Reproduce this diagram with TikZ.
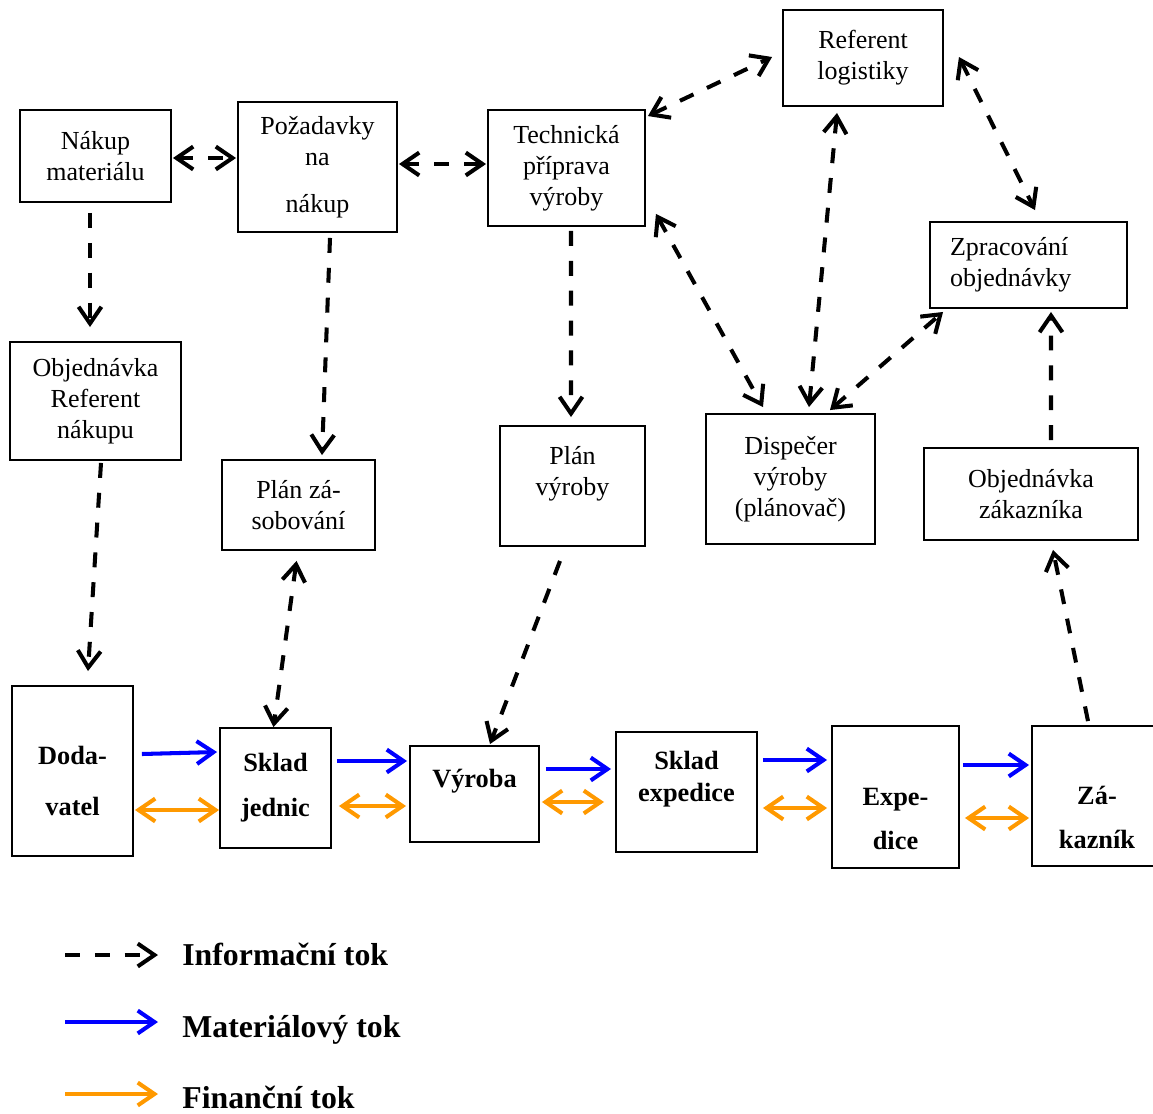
\documentclass[tikz,border=0pt]{standalone}
\usepackage{fontspec}
\setmainfont{Liberation Serif}
\usetikzlibrary{arrows.meta,calc}
\definecolor{finorange}{RGB}{255,153,0}

\begin{document}
\begin{tikzpicture}[x=0.02cm,y=-0.02cm,
                every path/.style={>={Straight Barb[length=9.5pt,width=13pt]}},
                blok/.style={draw,line width=1.1pt,inner sep=0pt,align=center,font=\fontsize{14.8}{17.6}\selectfont},
                blokb/.style={blok,font=\fontsize{15}{18.2}\selectfont\bfseries},
                info/.style={line width=2.3pt,dash pattern=on 8.5pt off 8.5pt},
                mat/.style={line width=2.3pt,blue},
                fin/.style={line width=2.3pt,finorange},
                legenda/.style={anchor=base west,inner sep=0pt,font=\fontsize{18.1}{20}\selectfont\bfseries}]
  \useasboundingbox (0,0) rectangle (1153,1113);
  % horni bloky
  \node[blok,minimum width=3.02cm,minimum height=1.84cm] (nm)  at (95.5,156)  {Nákup\\materiálu};
  \node[blok,minimum width=3.18cm,minimum height=2.6cm]  (pn)  at (317.5,167) {Požadavky\\na\\[0.32cm]nákup};
  \node[blok,minimum width=3.14cm,minimum height=2.32cm] (tp)  at (566.5,168) {Technická\\příprava\\výroby};
  \node[blok,minimum width=3.2cm,minimum height=1.92cm]  (rl)  at (863,58)    {Referent\\logistiky};
  \node[blok,minimum height=1.72cm,text width=3.14cm,inner xsep=0.4cm,align=left] (zo) at (1028.5,265) {Zpracování\\objednávky};
  \node[blok,minimum width=3.42cm,minimum height=2.36cm] (orn) at (95.5,401)  {Objednávka\\Referent\\nákupu};
  \node[blok,minimum width=3.06cm,minimum height=1.8cm]  (pz)  at (298.5,505) {Plán zá-\\sobování};
  \node[blok,minimum width=2.9cm,minimum height=2.4cm]   (pv)  at (572.5,486) {Plán\\výroby\\\mbox{}};
  \node[blok,minimum width=3.38cm,minimum height=2.6cm]  (dv)  at (790.5,479) {Dispečer\\výroby\\(plánovač)};
  \node[blok,minimum width=4.28cm,minimum height=1.84cm] (oz)  at (1031,494)  {Objednávka\\zákazníka};
  % dolni bloky
  \node[blokb,minimum width=2.42cm,minimum height=3.4cm] (dod) at (72.5,771)  {\mbox{}\\[0.12cm]Doda-\\[0.38cm]vatel};
  \node[blokb,minimum width=2.22cm,minimum height=2.4cm] (sj)  at (275.5,788) {Sklad\\[0.26cm]jednic};
  \node[blokb,minimum width=2.58cm,minimum height=1.92cm] (vy) at (474.5,794) {Výroba\\\mbox{}};
  \node[blokb,minimum width=2.82cm,minimum height=2.4cm] (se)  at (686.5,792) {Sklad\\expedice\\\mbox{}};
  \node[blokb,minimum width=2.54cm,minimum height=2.84cm] (ex) at (895.5,797) {\mbox{}\\[0.6cm]Expe-\\[0.24cm]dice};
  \node[blokb,minimum width=2.6cm,minimum height=2.8cm]  (za)  at (1097,796)  {\mbox{}\\[0.6cm]Zá-\\[0.24cm]kazník};
  % informacni tok
  \draw[info,<->] ($(nm.east)+(1,2)$) -- ($(pn.west)+(-1,-9)$);
  \draw[info,<->] ($(pn.east)+(1,-3)$) -- ($(tp.west)+(-1,-4)$);
  \draw[info,<->] ($(tp.north east)+(2,7)$) -- ($(rl.west)+(-10,-1)$);
  \draw[info,<->] ($(rl.east)+(15,-1)$) -- ($(zo.north)+(6.5,-11)$);
  \draw[info,<->] ($(rl.south)+(-26,6)$) -- ($(dv.north)+(18.5,-6)$);
  \draw[info,<->] ($(tp.south east)+(10,-13)$) -- ($(dv.north)+(-27.5,-6)$);
  \draw[info,<->] ($(dv.north)+(39.5,-3)$) -- ($(zo.south west)+(14,3)$);
  \draw[info,->] ($(oz.north)+(20,-7)$) -- ($(zo.south)+(22.5,3)$);
  \draw[info,->] ($(nm.south)+(-5.5,10)$) -- ($(orn.north)+(-5.5,-14)$);
  \draw[info,->] ($(orn.south)+(5.5,2)$) -- ($(dod.north)+(15.5,-14)$);
  \draw[info,->] ($(pn.south)+(12.5,5)$) -- ($(pz.north)+(23.5,-4)$);
  \draw[info,<->] ($(pz.south)+(-2,10)$) -- ($(sj.north)+(-2,0)$);
  \draw[info,->] ($(tp.south)+(4.5,4)$) -- ($(pv.north)+(-1.5,-8)$);
  \draw[info,->] ($(pv.south)+(-12.5,14)$) -- ($(vy.north)+(15.5,-1)$);
  \draw[info,->] ($(za.north)+(-9,-4)$) -- ($(oz.south)+(22,9)$);
  % materialovy tok
  \draw[mat,->] ($(dod.east)+(8,-17)$) -- ($(sj.west)+(-2,-36)$);
  \draw[mat,->] ($(sj.east)+(5,-27)$) -- ($(vy.west)+(-2,-33)$);
  \draw[mat,->] ($(vy.east)+(6,-25)$) -- ($(se.west)+(-4,-23)$);
  \draw[mat,->] ($(se.east)+(5,-32)$) -- ($(ex.west)+(-4,-37)$);
  \draw[mat,->] ($(ex.east)+(3,-32)$) -- ($(za.west)+(-2,-31)$);
  % financni tok
  \draw[fin,<->] ($(dod.east)+(1,39)$) -- ($(sj.west)+(0,22)$);
  \draw[fin,<->] ($(sj.east)+(7,18)$) -- ($(vy.west)+(-3,12)$);
  \draw[fin,<->] ($(vy.east)+(2,8)$) -- ($(se.west)+(-11,10)$);
  \draw[fin,<->] ($(se.east)+(5,16)$) -- ($(ex.west)+(-4,11)$);
  \draw[fin,<->] ($(ex.east)+(5,21)$) -- ($(za.west)+(-2,22)$);
  % legenda
  \node[legenda] (li) at (182,965)  {Informační tok};
  \node[legenda] (lm) at (182,1037) {Materiálový tok};
  \node[legenda] (lf) at (182,1108) {Finanční tok};
  \coordinate (li0) at (65,955);
  \coordinate (lm0) at (65,1022);
  \coordinate (lf0) at (65,1094);
  \draw[info,->] (li0) -- ($(li.base west)+(-24,-10)$);
  \draw[mat,->] (lm0) -- ($(lm.base west)+(-24,-15)$);
  \draw[fin,->] (lf0) -- ($(lf.base west)+(-24,-14)$);
\end{tikzpicture}
\end{document}
